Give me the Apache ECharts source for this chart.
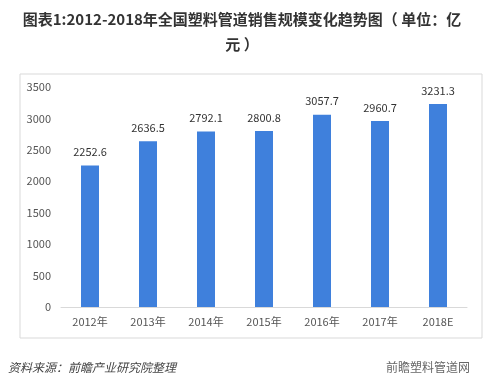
<!DOCTYPE html>
<html><head><meta charset="utf-8">
<script src="https://cdn.jsdelivr.net/npm/echarts@6/dist/echarts.min.js"></script>
<style>html,body{margin:0;padding:0;background:#fff}#c{width:484px;height:389px}</style>
</head><body><div id="c"></div>
<script>
var categories = ['2012年','2013年','2014年','2015年','2016年','2017年','2018E'];
var values = [2252.6, 2636.5, 2792.1, 2800.8, 3057.7, 2960.7, 3231.3];
var yTicks = [0, 500, 1000, 1500, 2000, 2500, 3000, 3500];

var chart = echarts.init(document.getElementById('c'), null, {renderer:'canvas'});
chart.setOption({
  animation:false,
  backgroundColor:'#fff',
  title:{
    text:'图表1:2012-2018年全国塑料管道销售规模变化趋势图（ 单位：亿\n元 ）',
    left:'center', top:2,
    textStyle:{fontSize:15, fontWeight:'bold', color:'#333', lineHeight:25, align:'center', fontFamily:'"Noto Sans CJK SC", sans-serif'}
  },
  graphic:[
    {type:'rect', shape:{x:20, y:74, width:462, height:264}, style:{fill:'none', stroke:'#d9d9d9', lineWidth:1}, z:-1},
    {type:'text', left:8, top:361, style:{text:'资料来源：前瞻产业研究院整理', fontSize:12, fontStyle:'italic', fill:'#444', fontFamily:'"Noto Sans CJK SC", sans-serif'}},
    {type:'text', right:14, top:361, style:{text:'前瞻塑料管道网', fontSize:12, fill:'#666', fontFamily:'"Noto Sans CJK SC", sans-serif'}}
  ],
  grid:{left:61, right:17, top:87, bottom:82, containLabel:false},
  xAxis:{
    type:'category', data:categories,
    axisLine:{lineStyle:{color:'#d9d9d9'}},
    axisTick:{show:false},
    axisLabel:{color:'#555', fontSize:11, margin:9, fontFamily:'"Noto Sans CJK SC", sans-serif'}
  },
  yAxis:{
    type:'value', min:yTicks[0], max:yTicks[yTicks.length-1], interval:500,
    axisLine:{show:false}, axisTick:{show:false}, splitLine:{show:false},
    axisLabel:{color:'#555', fontSize:11, margin:10, fontFamily:'"Noto Sans CJK SC", sans-serif',
      formatter:function(v){return String(v);}}
  },
  series:[{
    type:'bar', data:values, barWidth:18,
    itemStyle:{color:'#3f80dc'},
    label:{show:true, position:'top', distance:8, color:'#333', fontSize:11, fontFamily:'"Noto Sans CJK SC", sans-serif',
      formatter:function(p){return p.value.toFixed(1);}}
  }]
});
</script></body></html>
